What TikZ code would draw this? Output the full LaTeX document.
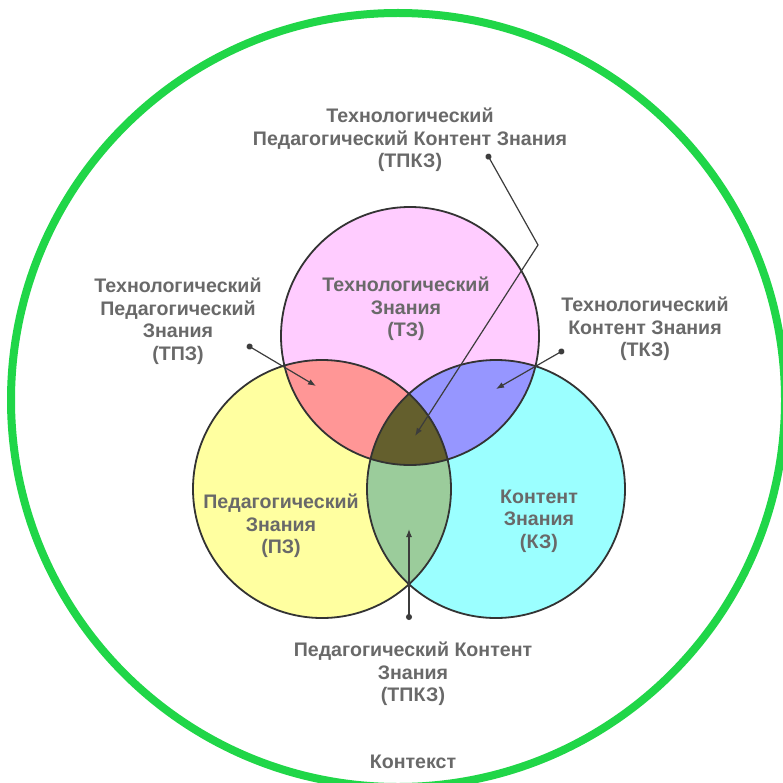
\documentclass[tikz,border=0pt]{standalone}
\usepackage{fontspec}
\setmainfont{Liberation Sans}
\usetikzlibrary{arrows.meta}

\definecolor{ctxgreen}{RGB}{32,214,72}
\definecolor{tzfill}{RGB}{255,204,255}
\definecolor{pzfill}{RGB}{255,255,160}
\definecolor{kzfill}{RGB}{155,255,255}
\definecolor{tpzfill}{RGB}{255,150,150}
\definecolor{tkzfill}{RGB}{150,150,255}
\definecolor{pkzfill}{RGB}{155,204,155}
\definecolor{tpkzfill}{RGB}{100,95,45}
\definecolor{labelgray}{RGB}{105,105,105}
\definecolor{linegray}{RGB}{60,60,60}

\tikzset{
  lbl/.style={font=\bfseries\fontsize{19.6}{22.5}\selectfont, text=labelgray, align=center, inner sep=0pt},
  ring/.style={draw=black!80, line width=1.8pt},
  pointer/.style={draw=linegray, line width=1.2pt, {Circle[length=6pt]}-{Latex[length=8pt,width=6pt]}}
}

\begin{document}
\begin{tikzpicture}[x=1pt,y=-1pt]
 \useasboundingbox (0,0) rectangle (783,783);
 \fill[white] (0,0) rectangle (783,783);

 % context ring
 \draw[ctxgreen, line width=8pt] (398,400) circle (387);

 % centres of the three circles
 \coordinate (t) at (410,336);
 \coordinate (p) at (322,489);
 \coordinate (k) at (496,489);

 \fill[tzfill] (t) circle (129);
 \fill[pzfill] (p) circle (129);
 \fill[kzfill] (k) circle (129);
 \begin{scope}
  \clip (t) circle (129);
  \fill[tpzfill] (p) circle (129);
  \fill[tkzfill] (k) circle (129);
 \end{scope}
 \begin{scope}
  \clip (p) circle (129);
  \fill[pkzfill] (k) circle (129);
  \clip (t) circle (129);
  \fill[tpkzfill] (k) circle (129);
 \end{scope}
 \draw[ring] (t) circle (129);
 \draw[ring] (p) circle (129);
 \draw[ring] (k) circle (129);

 % labels
 \node[lbl] (tpkz) at (410,140) {Технологический\\Педагогический Контент Знания\\(ТПКЗ)};
 \node[lbl] (tpz) at (178,321) {Технологический\\Педагогический\\Знания\\(ТПЗ)};
 \node[lbl] (tkz) at (645,329) {Технологический\\Контент Знания\\(ТКЗ)};
 \node[lbl] (tz) at (406,309) {Технологический\\Знания\\(ТЗ)};
 \node[lbl] (pz) at (281,526) {Педагогический\\Знания\\(ПЗ)};
 \node[lbl] (kz) at (539,521) {Контент\\Знания\\(КЗ)};
 \node[lbl] (pkz) at (413,674) {Педагогический Контент\\Знания\\(ТПКЗ)};
 \node[lbl] (ctx) at (413,762) {Контекст};

 % pointers
 \coordinate (tpkzdot) at (487,154);
 \coordinate (tpkzbend) at (538,245);
 \coordinate (tpkztip) at (415,436);
 \coordinate (tpzdot) at (247,345);
 \coordinate (tpztip) at (316,386);
 \coordinate (tkzdot) at (564,350);
 \coordinate (tkztip) at (496,389);
 \coordinate (pkzdot) at (409,620);
 \coordinate (pkztip) at (409,529);

 \draw[pointer] (tpkzdot) -- (tpkzbend) -- (tpkztip);
 \draw[pointer] (tpzdot) -- (tpztip);
 \draw[pointer] (tkzdot) -- (tkztip);
 \draw[pointer] (pkzdot) -- (pkztip);
\end{tikzpicture}
\end{document}
